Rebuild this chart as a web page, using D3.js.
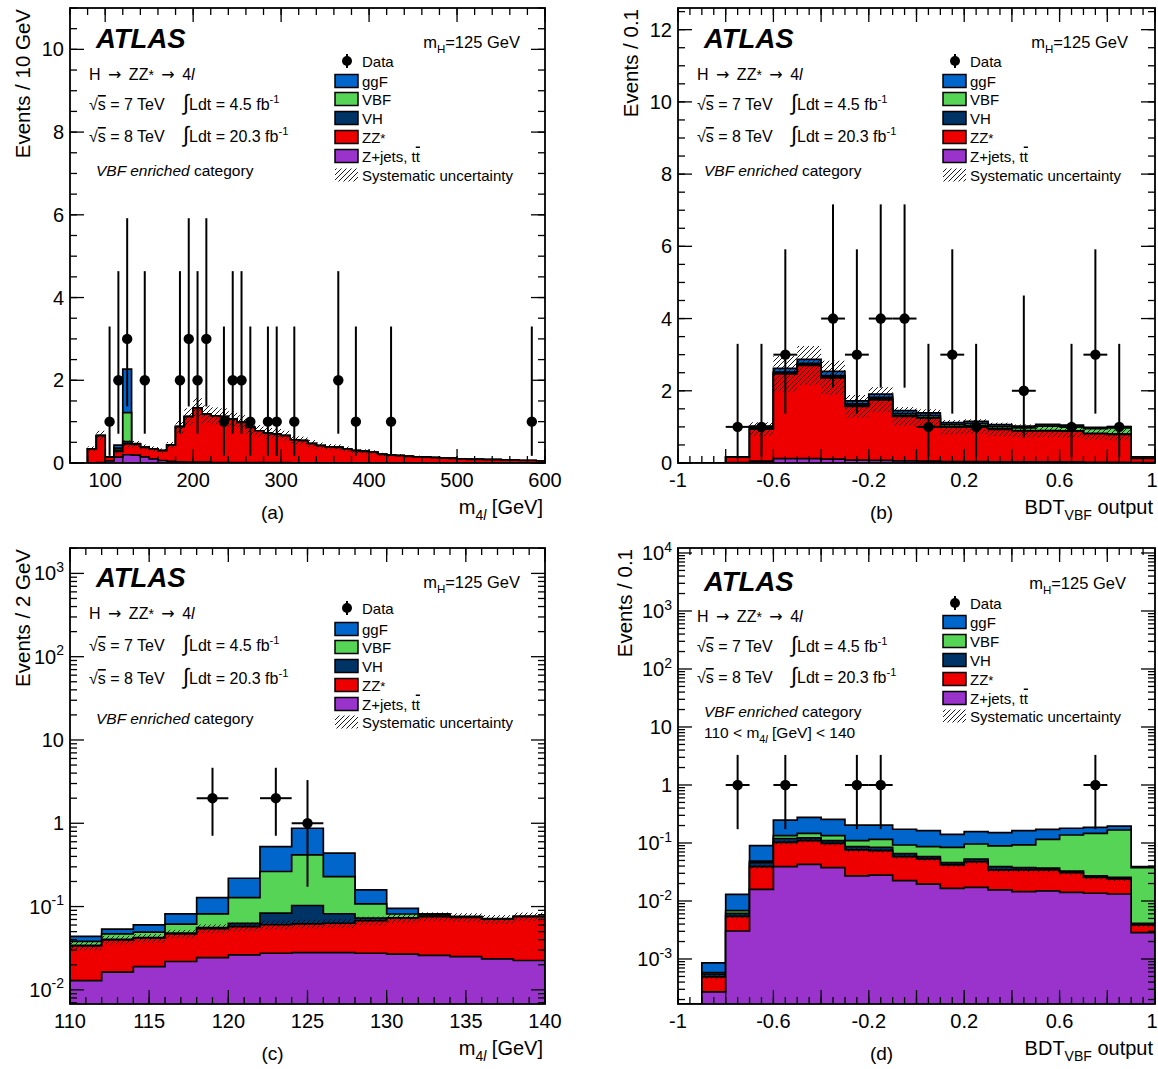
<!DOCTYPE html>
<html><head><meta charset="utf-8">
<script src="https://cdn.jsdelivr.net/npm/d3@7"></script>
<style>
body{margin:0;background:#fff}
svg{display:block}
text{font-family:"Liberation Sans",Arial,Helvetica,sans-serif;fill:#000}
</style>
</head><body>
<svg id="c" width="1158" height="1069"></svg>
<script>
// ================= DATA =================
// Poisson error bar extents (down / up) indexed by observed count
const errDown = [0, 0.827, 1.292, 1.633, 1.914];
const errUp   = [1.841, 2.300, 2.638, 2.918, 3.162];

// ---- (a) m4l, 10 GeV bins, 80-600 GeV
const edgesA = [80,90,100,110,120,130,140,150,160,170,180,190,200,210,220,230,240,250,260,270,280,290,300,310,320,330,340,350,360,370,380,390,400,410,420,430,440,450,460,470,480,490,500,510,520,530,540,550,560,570,580,590,600];
const zjetsA = [0,0.01,0.05,0.14,0.20,0.19,0.15,0.10,0.06,0.04,0.03,0.02,0.02,0.02,0.01,0.01,0.01,0.01,0.01,0.01,0.01,0.01,0.01,0.005,0.005,0.005,0.005,0.005,0.005,0.005,0.005,0.005,0.005,0,0,0,0,0,0,0,0,0,0,0,0,0,0,0,0,0,0,0];
const zzA    = [0.34,0.65,0.09,0.14,0.26,0.26,0.23,0.24,0.24,0.39,0.85,1.10,1.31,1.16,1.13,1.11,1.05,0.97,0.85,0.77,0.71,0.69,0.65,0.555,0.535,0.465,0.415,0.385,0.375,0.335,0.295,0.275,0.255,0.21,0.19,0.18,0.16,0.15,0.14,0.13,0.12,0.11,0.10,0.09,0.09,0.08,0.08,0.07,0.07,0.06,0.06,0.05];
const vhA    = [0,0,0,0.03,0.06,0,0,0,0,0,0,0,0,0,0,0,0,0,0,0,0,0,0,0,0,0,0,0,0,0,0,0,0,0,0,0,0,0,0,0,0,0,0,0,0,0,0,0,0,0,0,0];
const vbfA   = [0,0,0,0.05,0.70,0.01,0,0,0,0,0,0,0,0,0,0,0,0,0,0,0,0,0,0,0,0,0,0,0,0,0,0,0,0,0,0,0,0,0,0,0,0,0,0,0,0,0,0,0,0,0,0,0];
const ggfA   = [0,0,0,0.07,1.05,0.01,0,0,0,0,0,0,0,0,0,0,0,0,0,0,0,0,0,0,0,0,0,0,0,0,0,0,0,0,0,0,0,0,0,0,0,0,0,0,0,0,0,0,0,0,0,0,0];
const dataXA = [105,115,125,145,185,195,205,215,235,245,255,265,285,295,315,365,385,425,585];
const dataYA = [1,2,3,2,2,3,2,3,1,2,2,1,1,1,1,2,1,1,1];
const xTicksA = [100,200,300,400,500,600];
const yTicksA = [0,2,4,6,8,10];

// ---- (b) BDT_VBF output, 0.1 bins
const edgesB = [-1,-0.9,-0.8,-0.7,-0.6,-0.5,-0.4,-0.3,-0.2,-0.1,0,0.1,0.2,0.3,0.4,0.5,0.6,0.7,0.8,0.9,1];
const zjetsB = [0,0,0.01,0.05,0.12,0.12,0.11,0.08,0.07,0.06,0.05,0.04,0.04,0.03,0.03,0.03,0.03,0.02,0.02,0.01];
const zzB    = [0,0,0.15,0.89,2.35,2.58,2.25,1.49,1.68,1.23,1.19,0.95,0.97,0.90,0.86,0.86,0.85,0.79,0.77,0.12];
const vhB    = [0,0,0,0.01,0.03,0.03,0.03,0.03,0.03,0.03,0.02,0.02,0.02,0.02,0.01,0.01,0.01,0.01,0.01,0];
const vbfB   = [0,0,0,0.01,0.02,0.03,0.03,0.04,0.04,0.05,0.05,0.05,0.06,0.06,0.07,0.12,0.12,0.13,0.17,0.04];
const ggfB   = [0,0,0.01,0.06,0.10,0.11,0.12,0.08,0.09,0.08,0.08,0.06,0.06,0.05,0.05,0.05,0.04,0.04,0.04,0];
const dataXB = [-0.75,-0.65,-0.55,-0.35,-0.25,-0.15,-0.05,0.05,0.15,0.25,0.45,0.65,0.75,0.85];
const dataYB = [1,1,3,4,3,4,4,1,3,1,2,1,3,1];
const xTicksBDT = [-1,-0.6,-0.2,0.2,0.6,1];
const xTickLabelsBDT = ["-1","-0.6","-0.2","0.2","0.6","1"];
const yTicksB = [0,2,4,6,8,10,12];

// ---- (c) m4l 110-140, 2 GeV bins
const edgesC = [110,112,114,116,118,120,122,124,126,128,130,132,134,136,138,140];
const zjetsC = [0.0129,0.0163,0.019,0.0219,0.0244,0.0263,0.0275,0.028,0.028,0.0275,0.0268,0.0259,0.0251,0.0235,0.0225];
const zzC    = [0.0208,0.0235,0.0227,0.025,0.030,0.031,0.033,0.034,0.035,0.040,0.0456,0.050,0.049,0.047,0.053];
const vhC    = [0.0004,0.0005,0.0006,0.001,0.0015,0.0055,0.023,0.041,0.019,0.005,0.001,0.0005,0.0002,0.0001,0.0001];
const vbfC   = [0.004,0.0067,0.0069,0.0135,0.026,0.065,0.18,0.314,0.147,0.035,0.008,0.003,0.001,0.0005,0.0003];
const ggfC   = [0.0057,0.0065,0.011,0.0203,0.046,0.091,0.262,0.454,0.208,0.051,0.0138,0.0023,0.0008,0.0005,0.0003];
const dataXC = [119,123,125];
const dataYC = [2,2,1];
const xTicksC = [110,115,120,125,130,135,140];

// ---- (d) BDT_VBF output in 110<m4l<140, log
const zjetsD = [0,0.00027,0.00304,0.0159,0.039,0.0429,0.0376,0.027,0.028,0.0224,0.0196,0.0165,0.0172,0.0155,0.0145,0.0149,0.0141,0.0136,0.0132,0.00284];
const zzD    = [0,0.00022,0.0024,0.0232,0.0636,0.067,0.061,0.0488,0.046,0.0356,0.0334,0.0253,0.0305,0.0187,0.0197,0.0193,0.0167,0.012,0.0108,0.00102];
const vhD    = [0,0.00006,0.0007,0.0067,0.017,0.013,0.011,0.011,0.0105,0.0077,0.005,0.004,0.0053,0.0048,0.0033,0.0028,0.0021,0.0014,0.0016,0.00025];
const vbfD   = [0,0.00003,0.0007,0.003,0.014,0.024,0.024,0.023,0.031,0.0267,0.0285,0.0384,0.043,0.05,0.055,0.0786,0.1045,0.12,0.142,0.0335];
const ggfD   = [0,0.00028,0.0062,0.041,0.115,0.13,0.122,0.094,0.088,0.08,0.0765,0.057,0.061,0.062,0.071,0.0564,0.042,0.039,0.0285,0.0014];
const dataXD = [-0.75,-0.55,-0.25,-0.15,0.75];
const dataYD = [1,1,1,1,1];

const legendNames = ["Data","ggF","VBF","VH","ZZ*","Z+jets, tt","Systematic uncertainty"];
const colors = {zjets:"#9933cc", zz:"#ee0000", vh:"#003366", vbf:"#55d455", ggf:"#0066cc"};

// ================= DRAWING =================
const svg = d3.select('#c');
const defs = svg.append('defs');
const pat = defs.append('pattern').attr('id','hatch').attr('patternUnits','userSpaceOnUse')
  .attr('width',5).attr('height',5);
pat.append('path').attr('d','M-1,1 l2,-2 M0,5 l5,-5 M4,6 l2,-2')
  .attr('stroke','#000').attr('stroke-width',0.9);

function rich(g, x, y, parts, size, anchor) {
  const t = g.append('text').attr('x',x).attr('y',y).attr('font-size',size)
    .attr('text-anchor',anchor||'start');
  let shift = 0;
  parts.forEach(p => {
    if (typeof p === 'string') p = {t:p};
    const s = t.append('tspan').text(p.t);
    const target = p.sub ? 0.32*size : (p.sup ? -0.42*size : 0);
    if (target - shift !== 0) s.attr('dy', target - shift);
    shift = target;
    if (p.dx) s.attr('dx', p.dx);
    if (p.sub || p.sup) s.attr('font-size', size*0.7);
    if (p.it) s.attr('font-style','italic');
    if (p.fs) s.attr('font-size', p.fs);
    if (p.ff) s.attr('font-family', p.ff);
    if (p.ol) s.attr('text-decoration','overline');
  });
  return t;
}

function drawPanel(p) {
  const g = svg.append('g');
  const x = d3.scaleLinear().domain(p.xDom).range([p.x0,p.x1]);
  const y = (p.log ? d3.scaleLog() : d3.scaleLinear()).domain(p.yDom).range([p.y1,p.y0]).clamp(true);
  const yb = v => (v <= 0 ? p.y1 : y(v));
  const clipId = 'clip' + p.id;
  defs.append('clipPath').attr('id',clipId).append('rect')
    .attr('x',p.x0).attr('y',p.y0).attr('width',p.x1-p.x0).attr('height',p.y1-p.y0);
  const pg = g.append('g').attr('clip-path',`url(#${clipId})`);
  const n = p.edges.length - 1;

  // cumulative stack (bottom -> top)
  let base = new Array(n).fill(0);
  const cums = p.layers.map(vals => { const hi = base.map((b,i)=>b+vals[i]); base = hi; return hi; });
  for (let l = cums.length-1; l >= 0; l--) {
    const hi = cums[l];
    let d = `M${x(p.edges[0])},${p.y1+2}`;
    for (let i=0;i<n;i++) d += `V${yb(hi[i])}H${x(p.edges[i+1])}`;
    d += `V${p.y1+2}Z`;
    pg.append('path').attr('d',d).attr('fill',p.cols[l]).attr('stroke','#000')
      .attr('stroke-width',1.7).attr('stroke-linejoin','miter');
  }
  // systematic uncertainty band on background (ZZ* + Z+jets)
  const bkg = p.layers[0].map((v,i)=>v + p.layers[1][i]);
  bkg.forEach((b,i) => {
    if (b <= 0) return;
    const yt = yb(b*(1+p.unc)), ybt = yb(b*(1-p.unc));
    pg.append('rect').attr('x',x(p.edges[i])).attr('width',x(p.edges[i+1])-x(p.edges[i]))
      .attr('y',yt).attr('height',Math.max(0,ybt-yt)).attr('fill','url(#hatch)');
  });
  // data
  p.dataX.forEach((xv,i) => {
    const nObs = p.dataY[i];
    const cx = x(xv), cy = y(nObs);
    pg.append('line').attr('x1',cx).attr('x2',cx).attr('y1',yb(nObs-errDown[nObs])).attr('y2',y(nObs+errUp[nObs]))
      .attr('stroke','#000').attr('stroke-width',2);
    pg.append('line').attr('x1',x(xv-p.binW/2)).attr('x2',x(xv+p.binW/2)).attr('y1',cy).attr('y2',cy)
      .attr('stroke','#000').attr('stroke-width',2);
    pg.append('circle').attr('cx',cx).attr('cy',cy).attr('r',5.2).attr('fill','#000');
  });

  // frame
  g.append('rect').attr('x',p.x0).attr('y',p.y0).attr('width',p.x1-p.x0).attr('height',p.y1-p.y0)
    .attr('fill','none').attr('stroke','#000').attr('stroke-width',1.8);

  // ticks
  const tk = g.append('g').attr('stroke','#000').attr('stroke-width',1.3);
  const xt = (v,len) => { const X = x(v);
    tk.append('line').attr('x1',X).attr('x2',X).attr('y1',p.y1).attr('y2',p.y1-len);
    tk.append('line').attr('x1',X).attr('x2',X).attr('y1',p.y0).attr('y2',p.y0+len); };
  const ytk = (v,len) => { const Y = y(v);
    tk.append('line').attr('x1',p.x0).attr('x2',p.x0+len).attr('y1',Y).attr('y2',Y);
    tk.append('line').attr('x1',p.x1).attr('x2',p.x1-len).attr('y1',Y).attr('y2',Y); };
  p.xMinor.forEach(v => xt(v,7));
  p.xMajor.forEach(v => xt(v,14));
  p.yMinor.forEach(v => ytk(v,7));
  p.yMajor.forEach(v => ytk(v,14));

  // tick labels
  p.xLabels.forEach((v,i) => {
    const X = Math.min(x(v), 1152);
    g.append('text').attr('x',X).attr('y',p.y1+24).attr('font-size',20)
      .attr('text-anchor','middle').text(p.xLabelText ? p.xLabelText[i] : String(v));
  });
  p.yLabels.forEach(v => {
    if (p.log) {
      const k = Math.round(Math.log10(v));
      const parts = k === 0 ? ['1'] : (k === 1 ? ['10'] : ['10', {t:String(k), sup:true, fs:14}]);
      rich(g, p.x0-6, y(v)+7, parts, 20, 'end');
    } else {
      g.append('text').attr('x',p.x0-6).attr('y',y(v)+7).attr('font-size',20)
        .attr('text-anchor','end').text(String(v));
    }
  });

  // axis titles
  rich(g, p.x1-2, p.y1+51, p.xTitle, 20, 'end');
  const yt = g.append('g').attr('transform',`translate(${p.yTitleX},${p.y0+1}) rotate(-90)`);
  rich(yt, 0, 0, [p.yTitle], 20.5, 'end');
  // sub-figure label
  g.append('text').attr('x',(p.x0+p.x1)/2-35).attr('y',p.y1+56).attr('font-size',19)
    .attr('font-family','"Liberation Serif","Times New Roman",serif').attr('text-anchor','middle').text(p.sub);

  // annotations
  const T = p.txt;
  const AR = {t:'→', ff:'"DejaVu Sans"', fs:16, dx:3};
  g.append('text').attr('x',T.atlasX).attr('y',T.atlasY).attr('font-size',27.5)
    .attr('font-weight','bold').attr('font-style','italic').text('ATLAS');
  rich(g, T.mhX, T.mhY, ['m',{t:'H',sub:true},'=125 GeV'], 16.5, 'end');
  rich(g, T.tx, T.l1, ['H ',AR,{t:' ZZ',dx:3},{t:'*',fs:14},' ',AR,{t:' 4',dx:3},{t:'l',it:true}], 16);
  rich(g, T.tx, T.l2, ['√',{t:'s',ol:true},' = 7 TeV'], 16);
  rich(g, T.ix, T.l2, [{t:'∫',fs:22},'Ldt = 4.5 fb',{t:'-1',sup:true}], 16);
  rich(g, T.tx, T.l3, ['√',{t:'s',ol:true},' = 8 TeV'], 16);
  rich(g, T.ix, T.l3, [{t:'∫',fs:22},'Ldt = 20.3 fb',{t:'-1',sup:true}], 16);
  rich(g, T.vx, T.l4, [{t:'VBF enriched',it:true},' category'], 15.5);
  if (T.l5) rich(g, T.vx, T.l5, ['110 < m',{t:'4',sub:true},{t:'l',sub:true,it:true},' [GeV] < 140'], 15.5);

  // legend
  const L = g.append('g');
  const ly = T.leg;
  L.append('circle').attr('cx',T.lx+12).attr('cy',ly[0]).attr('r',5).attr('fill','#000');
  L.append('line').attr('x1',T.lx+12).attr('x2',T.lx+12).attr('y1',ly[0]-7).attr('y2',ly[0]+7).attr('stroke','#000').attr('stroke-width',2);
  rich(L, T.lx+27, ly[0]+5.5, [legendNames[0]], 15);
  const legCols = [colors.ggf, colors.vbf, colors.vh, colors.zz, colors.zjets];
  legCols.forEach((c,i) => {
    L.append('rect').attr('x',T.lx).attr('y',ly[i+1]-6.5).attr('width',23).attr('height',13)
      .attr('fill',c).attr('stroke','#000').attr('stroke-width',1.5);
  });
  rich(L, T.lx+27, ly[1]+5.5, [legendNames[1]], 15);
  rich(L, T.lx+27, ly[2]+5.5, [legendNames[2]], 15);
  rich(L, T.lx+27, ly[3]+5.5, [legendNames[3]], 15);
  rich(L, T.lx+27, ly[4]+5.5, ['ZZ',{t:'*',fs:13}], 15);
  rich(L, T.lx+27, ly[5]+5.5, ['Z+jets, t',{t:'t',ol:true}], 15);
  L.append('rect').attr('x',T.lx).attr('y',ly[6]-6.5).attr('width',23).attr('height',13).attr('fill','url(#hatch)');
  rich(L, T.lx+27, ly[6]+5.5, [legendNames[6]], 15);
}

// tick helpers (positions of minor marks)
function stepList(a, b, s) { const out=[]; for (let v=a; v<=b+1e-9; v+=s) out.push(+v.toFixed(6)); return out; }
function logMinors(lo, hi) { const out=[]; for (let k=Math.floor(Math.log10(lo)); k<=Math.ceil(Math.log10(hi)); k++) for (let m=2;m<=9;m++){const v=m*Math.pow(10,k); if(v>=lo&&v<=hi) out.push(v);} return out; }
function logMajors(lo, hi) { const out=[]; for (let k=Math.ceil(Math.log10(lo)); k<=Math.floor(Math.log10(hi)); k++) out.push(Math.pow(10,k)); return out; }

const stackColsOrder = [colors.zjets, colors.zz, colors.vh, colors.vbf, colors.ggf];
const txtAB = (dx) => ({atlasX:96+dx, atlasY:48, mhX:520+dx, mhY:48, tx:89+dx, ix:183+dx, vx:96+dx,
  l1:80, l2:110, l3:142, l4:176, lx:335+dx, leg:[61,81,99,118,137,156,175]});

const cDomY = [Math.pow(10,-2.17), Math.pow(10,3.305)];
const dDomY = [Math.pow(10,-3.776), Math.pow(10,4.086)];

const panels = [
  {id:'a', sub:'(a)', x0:70, x1:545, y0:8, y1:463, xDom:[60,600], yDom:[0,11], log:false,
   edges:edgesA, layers:[zjetsA,zzA,vhA,vbfA,ggfA], cols:stackColsOrder, dataX:dataXA, dataY:dataYA, binW:10, unc:0.18,
   xMajor:xTicksA, xMinor:stepList(60,600,20), xLabels:xTicksA,
   yMajor:yTicksA, yMinor:stepList(0,11,0.5), yLabels:yTicksA,
   xTitle:['m',{t:'4',sub:true},{t:'l',sub:true,it:true},' [GeV]'], yTitle:'Events / 10 GeV', yTitleX:30,
   txt:txtAB(0)},
  {id:'b', sub:'(b)', x0:678, x1:1155, y0:8, y1:463, xDom:[-1,1], yDom:[0,12.6], log:false,
   edges:edgesB, layers:[zjetsB,zzB,vhB,vbfB,ggfB], cols:stackColsOrder, dataX:dataXB, dataY:dataYB, binW:0.1, unc:0.2,
   xMajor:stepList(-1,1,0.2), xMinor:stepList(-1,1,0.05), xLabels:xTicksBDT, xLabelText:xTickLabelsBDT,
   yMajor:yTicksB, yMinor:stepList(0,12.5,0.5), yLabels:yTicksB,
   xTitle:['BDT',{t:'VBF',sub:true},' output'], yTitle:'Events / 0.1', yTitleX:638,
   txt:txtAB(608)},
  {id:'c', sub:'(c)', x0:70, x1:545, y0:548, y1:1004, xDom:[110,140], yDom:cDomY, log:true,
   edges:edgesC, layers:[zjetsC,zzC,vhC,vbfC,ggfC], cols:stackColsOrder, dataX:dataXC, dataY:dataYC, binW:2, unc:0.12,
   xMajor:xTicksC, xMinor:stepList(110,140,1), xLabels:xTicksC,
   yMajor:logMajors(cDomY[0],cDomY[1]), yMinor:logMinors(cDomY[0],cDomY[1]), yLabels:logMajors(cDomY[0],cDomY[1]),
   xTitle:['m',{t:'4',sub:true},{t:'l',sub:true,it:true},' [GeV]'], yTitle:'Events / 2 GeV', yTitleX:30,
   txt:{atlasX:96, atlasY:587, mhX:520, mhY:588, tx:89, ix:183, vx:96, l1:619, l2:651, l3:684, l4:724,
        lx:335, leg:[608,629,647,666,685,704,722]}},
  {id:'d', sub:'(d)', x0:678, x1:1155, y0:548, y1:1004, xDom:[-1,1], yDom:dDomY, log:true,
   edges:edgesB, layers:[zjetsD,zzD,vhD,vbfD,ggfD], cols:stackColsOrder, dataX:dataXD, dataY:dataYD, binW:0.1, unc:0.08,
   xMajor:stepList(-1,1,0.2), xMinor:stepList(-1,1,0.05), xLabels:xTicksBDT, xLabelText:xTickLabelsBDT,
   yMajor:logMajors(dDomY[0],dDomY[1]), yMinor:logMinors(dDomY[0],dDomY[1]), yLabels:logMajors(dDomY[0],dDomY[1]),
   xTitle:['BDT',{t:'VBF',sub:true},' output'], yTitle:'Events / 0.1', yTitleX:632,
   txt:{atlasX:704, atlasY:591, mhX:1126, mhY:589, tx:697, ix:791, vx:704, l1:622, l2:652, l3:683, l4:717, l5:738,
        lx:943, leg:[603,622,641,660,679,698,716]}}
];
panels.forEach(drawPanel);
</script>
</body></html>
